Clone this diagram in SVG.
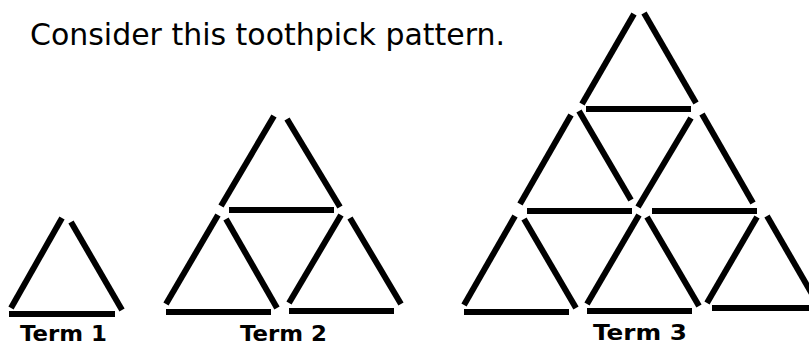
<svg xmlns="http://www.w3.org/2000/svg" width="809" height="346" viewBox="0 0 809 346">
<style>
.stick{stroke:#000;stroke-width:6;stroke-linecap:butt;fill:none}
.lbl{font-family:"Comic Sans MS","DejaVu Sans",sans-serif;font-weight:bold;font-size:21px;fill:#000}
.title{font-family:"Comic Sans MS","DejaVu Sans",sans-serif;font-size:30px;fill:#000}
</style>
<rect width="809" height="346" fill="#fff"/>
<text class="title" x="30" y="45" textLength="475" lengthAdjust="spacingAndGlyphs">Consider this toothpick pattern.</text>
<g id="connectors">
<g id="term1">
<line class="stick" x1="11" y1="308" x2="62" y2="218"/>
<line class="stick" x1="71" y1="222" x2="122" y2="310"/>
<line class="stick" x1="9" y1="314" x2="115" y2="314"/>
</g>
<g id="term2">
<line class="stick" x1="221" y1="206" x2="274" y2="116"/>
<line class="stick" x1="287" y1="119" x2="340" y2="207"/>
<line class="stick" x1="229" y1="210" x2="334" y2="210"/>
<line class="stick" x1="218" y1="215" x2="166" y2="304"/>
<line class="stick" x1="226" y1="219" x2="277" y2="308"/>
<line class="stick" x1="166" y1="312" x2="271" y2="312"/>
<line class="stick" x1="341" y1="215" x2="289" y2="303"/>
<line class="stick" x1="350" y1="218" x2="401" y2="304"/>
<line class="stick" x1="289" y1="311" x2="394" y2="311"/>
</g>
<g id="term3">
<line class="stick" x1="582" y1="104" x2="634" y2="14"/>
<line class="stick" x1="644" y1="13" x2="696" y2="103"/>
<line class="stick" x1="586" y1="109" x2="691" y2="109"/>
<line class="stick" x1="571" y1="115" x2="520" y2="204"/>
<line class="stick" x1="579" y1="111" x2="631" y2="200"/>
<line class="stick" x1="527" y1="211" x2="632" y2="211"/>
<line class="stick" x1="691" y1="118" x2="638" y2="207"/>
<line class="stick" x1="702" y1="114" x2="753" y2="203"/>
<line class="stick" x1="652" y1="211" x2="757" y2="211"/>
<line class="stick" x1="515" y1="216" x2="464" y2="305"/>
<line class="stick" x1="524" y1="219" x2="576" y2="308"/>
<line class="stick" x1="464" y1="312" x2="569" y2="312"/>
<line class="stick" x1="639" y1="215" x2="587" y2="304"/>
<line class="stick" x1="647" y1="217" x2="699" y2="306"/>
<line class="stick" x1="587" y1="311" x2="692" y2="311"/>
<line class="stick" x1="757" y1="217" x2="707" y2="303"/>
<line class="stick" x1="767" y1="216" x2="812" y2="294"/>
<line class="stick" x1="712" y1="308" x2="812" y2="308"/>
</g>
</g>
<g id="labels">
<text class="lbl" x="20" y="341" textLength="87" lengthAdjust="spacingAndGlyphs">Term 1</text>
<text class="lbl" x="240" y="341" textLength="87" lengthAdjust="spacingAndGlyphs">Term 2</text>
<text class="lbl" x="593" y="340" textLength="94" lengthAdjust="spacingAndGlyphs">Term 3</text>
</g>
</svg>
